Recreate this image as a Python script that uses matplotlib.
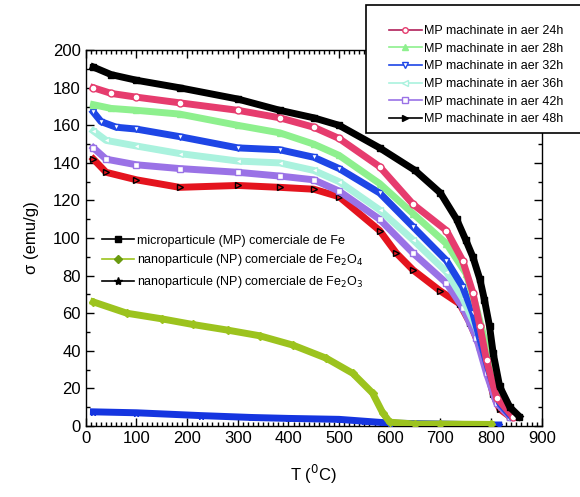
import numpy as np
import matplotlib
matplotlib.use("Agg")
import matplotlib.pyplot as plt
from matplotlib.lines import Line2D
from matplotlib.patches import Rectangle
from matplotlib.ticker import MultipleLocator

# ---------- data (T in degC, sigma in emu/g)
t_fe = [15, 50, 100, 185, 300, 383, 450, 500, 580, 650, 700, 732, 750, 764, 778, 787, 797, 804, 817, 837, 856]
s_fe = [191, 187, 184, 180, 174, 168, 164, 160, 148, 136, 124, 110, 99, 90, 78, 67, 53, 39, 21, 10, 5]

t_24 = [15, 50, 100, 185, 300, 383, 450, 500, 580, 646, 712, 744, 764, 778, 791, 811, 843]
s_24 = [180, 177, 175, 172, 168, 164, 159, 153, 138, 118, 104, 88, 71, 53, 35, 15, 5]

t_28 = [15, 50, 100, 185, 300, 383, 450, 500, 580, 646, 712, 751, 771, 791, 811, 843]
s_28 = [171, 169, 168, 166, 160, 156, 150, 144, 129, 113, 97, 81, 63, 42, 21, 7]

t_32 = [15, 30, 60, 100, 185, 300, 383, 450, 500, 580, 646, 712, 744, 764, 778, 797, 817, 840]
s_32 = [167, 162, 159, 158, 154, 148, 147, 143, 137, 124, 106, 88, 74, 60, 46, 28, 12, 5]

t_36 = [15, 40, 100, 185, 300, 383, 450, 500, 580, 646, 712, 744, 771, 791, 811, 840]
s_36 = [157, 152, 149, 145, 141, 140, 136, 130, 115, 99, 82, 68, 52, 35, 17, 5]

t_42 = [15, 40, 100, 185, 300, 383, 450, 500, 580, 646, 712, 744, 771, 791, 811, 837]
s_42 = [148, 142, 139, 137, 135, 133, 131, 125, 110, 92, 76, 63, 47, 28, 12, 5]

t_48 = [15, 40, 100, 185, 300, 383, 450, 500, 580, 613, 646, 699, 738, 758, 778, 791, 804, 817, 837]
s_48 = [142, 135, 131, 127, 128, 127, 126, 122, 104, 92, 83, 72, 65, 55, 42, 31, 17, 9, 5]

t_fe3o4 = [15, 81, 150, 211, 280, 343, 409, 475, 527, 566, 586, 600, 650, 700, 800]
s_fe3o4 = [66, 60, 57, 54, 51, 48, 43, 36, 28, 17.5, 7, 2, 1, 1, 0.8]

t_fe2o3 = [15, 100, 227, 327, 400, 500, 550, 600, 700, 800, 815]
s_fe2o3 = [7.5, 7, 5.5, 4.5, 4, 3.5, 2.5, 1.5, 1, 0.5, 0.5]

labels_mp = ["MP machinate in aer 24h", "MP machinate in aer 28h", "MP machinate in aer 32h",
             "MP machinate in aer 36h", "MP machinate in aer 42h", "MP machinate in aer 48h"]
labels_ref = ["microparticule (MP) comerciale de Fe",
              "nanoparticule (NP) comerciale de Fe$_2$O$_4$",
              "nanoparticule (NP) comerciale de Fe$_2$O$_3$"]

plt.rcParams['font.family'] = ['Liberation Sans', 'DejaVu Sans']

fig = plt.figure(figsize=(5.8, 4.97), dpi=100)
ax = fig.add_axes([0.148, 0.143, 0.786, 0.756])

lw = 5
ms = 5
ax.plot(t_fe2o3, s_fe2o3, color='#1535e0', lw=lw, marker='*', ms=ms, zorder=3)
ax.plot(t_fe3o4, s_fe3o4, color='#9cc31e', lw=lw, marker='D', ms=ms - 1, zorder=3)
ax.plot(t_48, s_48, color='#e4141e', lw=lw, marker='>', ms=ms, mfc='#e4141e', mec='black', zorder=4)
ax.plot(t_42, s_42, color='#9a72e6', lw=lw, marker='s', ms=ms, mfc='white', mec='#9a72e6', zorder=4)
ax.plot(t_36, s_36, color='#aaf2de', lw=lw, marker='<', ms=ms, mfc='white', mec='#aaf2de', zorder=4)
ax.plot(t_32, s_32, color='#1e46e6', lw=lw, marker='v', ms=ms, mfc='white', mec='#1e46e6', zorder=4)
ax.plot(t_28, s_28, color='#8ef08e', lw=lw, marker='^', ms=ms, zorder=4)
ax.plot(t_24, s_24, color='#e63c6e', lw=lw, marker='o', ms=ms, mfc='white', mec='#e63c6e', zorder=4)
ax.plot(t_fe, s_fe, color='black', lw=lw, marker='s', ms=ms, zorder=5)

ax.set_xlim(0, 900)
ax.set_ylim(0, 200)
ax.xaxis.set_major_locator(MultipleLocator(100))
ax.xaxis.set_minor_locator(MultipleLocator(10))
ax.yaxis.set_major_locator(MultipleLocator(20))
ax.yaxis.set_minor_locator(MultipleLocator(10))
ax.tick_params(which='both', direction='in', top=True, right=True, labelsize=12, width=1)
ax.tick_params(which='major', length=6)
ax.tick_params(which='minor', length=3)
for sp in ax.spines.values():
    sp.set_linewidth(1)

ax.set_xlabel("T ($^0$C)", fontsize=12, labelpad=12)
ax.set_ylabel("σ (emu/g)", fontsize=12, labelpad=10)

# legend inside the axes
ref_handles = [
    Line2D([], [], color='black', lw=1.2, marker='s', ms=5),
    Line2D([], [], color='#9cc31e', lw=1.2, marker='D', ms=4, mfc='#6a9a10', mec='#6a9a10'),
    Line2D([], [], color='black', lw=1.2, marker='*', ms=6),
]
leg1 = fig.legend(ref_handles, labels_ref, loc='upper left', bbox_to_anchor=(0.165, 0.54),
                  frameon=False, fontsize=9, handlelength=2.6, handletextpad=0.2,
                  labelspacing=0.45, borderpad=0)

# legend box at the top right, running off the figure edge
fig.patches.append(Rectangle((0.631, 0.732), 0.5, 0.258, transform=fig.transFigure,
                             fill=True, facecolor='white', edgecolor='black', lw=1.2,
                             clip_on=False, zorder=9))
mp_handles = [
    Line2D([], [], color='#b0205a', lw=1.2, marker='o', ms=4, mfc='white', mec='#e63c6e'),
    Line2D([], [], color='#8ef08e', lw=1.2, marker='^', ms=5, mfc='#8ef08e'),
    Line2D([], [], color='#1e46e6', lw=1.2, marker='v', ms=4, mfc='white'),
    Line2D([], [], color='#aaf2de', lw=1.2, marker='<', ms=4, mfc='white'),
    Line2D([], [], color='#9a72e6', lw=1.2, marker='s', ms=4, mfc='white'),
    Line2D([], [], color='black', lw=1.2, marker='>', ms=5),
]
leg2 = fig.legend(mp_handles, labels_mp, loc='upper left', bbox_to_anchor=(0.66, 0.962),
                  frameon=False, fontsize=9, handlelength=2.6, handletextpad=0.2,
                  labelspacing=0.45, borderpad=0)
leg2.set_zorder(10)

fig.savefig("out.png", dpi=100)
